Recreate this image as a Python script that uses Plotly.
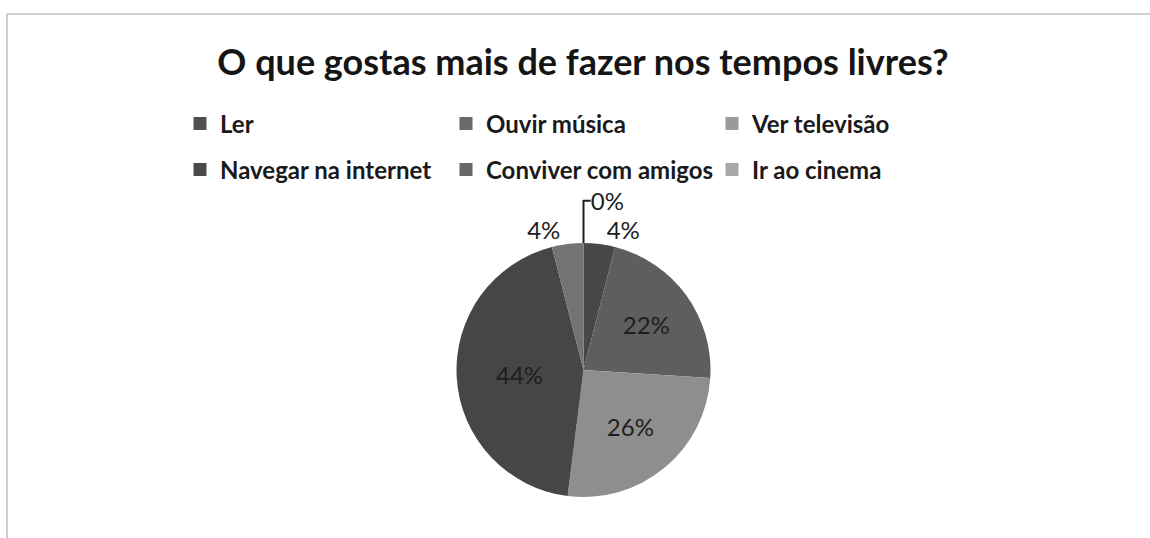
import plotly.graph_objects as go

title = "O que gostas mais de fazer nos tempos livres?"
categories = ["Ler", "Ouvir música", "Ver televisão", "Navegar na internet",
              "Conviver com amigos", "Ir ao cinema"]
values = [4, 22, 26, 44, 4, 0]
slice_colors = ["#474747", "#5e5e5e", "#8e8e8e", "#464646", "#737373", "#9c9c9c"]
legend_colors = ["#505050", "#6a6a6a", "#9a9a9a", "#4a4a4a", "#686868", "#a8a8a8"]
text_positions = ["outside", "inside", "inside", "inside", "outside", "outside"]

W, H = 1150, 538
cx, cy, r = 583.5, 370, 127

fig = go.Figure()
fig.add_trace(go.Pie(
    labels=categories, values=values, sort=False, direction="clockwise",
    rotation=0,
    marker=dict(colors=slice_colors, line=dict(width=0)),
    textinfo="percent", textposition=text_positions,
    insidetextorientation="horizontal",
    textfont=dict(family="Lato", size=24, color="#1e1e1e"),
    showlegend=False, hoverinfo="label+percent",
    domain=dict(x=[(cx - r) / W, (cx + r) / W], y=[1 - (cy + r) / H, 1 - (cy - r) / H]),
))

for i, (cat, col) in enumerate(zip(categories, legend_colors)):
    fig.add_trace(go.Scatter(
        x=[None], y=[None], mode="markers", name=cat,
        marker=dict(symbol="square", size=13, color=col),
        legend="legend" if i < 3 else "legend2",
        showlegend=True,
    ))

legend_common = dict(
    orientation="h", xanchor="left", yanchor="middle",
    font=dict(family="Lato", size=24, color="#1a1a1a", weight="bold"),
    entrywidth=221, entrywidthmode="pixels",
    bgcolor="rgba(0,0,0,0)", itemclick=False, itemdoubleclick=False,
)

fig.update_layout(
    width=W, height=H,
    margin=dict(l=0, r=0, t=0, b=0),
    paper_bgcolor="white", plot_bgcolor="white",
    title=dict(text="<b>" + title + "</b>", x=583 / W, xanchor="center",
               y=1 - 62 / H, yanchor="middle",
               font=dict(family="Lato", size=36, color="#151515")),
    xaxis=dict(visible=False), yaxis=dict(visible=False),
    legend=dict(x=180 / W, y=1 - 124 / H, **legend_common),
    legend2=dict(x=180 / W, y=1 - 170 / H, **legend_common),
    shapes=[
        dict(type="line", xref="paper", yref="paper", x0=7 / W, x1=1.01, y0=1 - 14 / H, y1=1 - 14 / H,
             line=dict(color="#a0a0a0", width=1)),
        dict(type="line", xref="paper", yref="paper", x0=7 / W, x1=7 / W, y0=-0.01, y1=1 - 14 / H,
             line=dict(color="#a0a0a0", width=1)),
    ],
)

fig.write_html("out.html", config={"displayModeBar": False})
